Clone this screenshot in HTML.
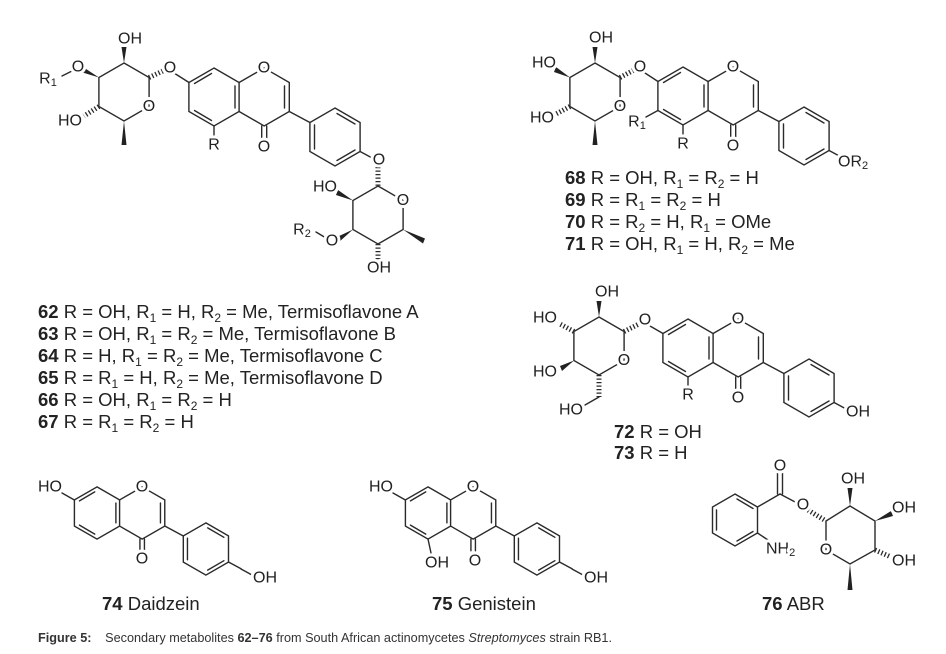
<!DOCTYPE html>
<html><head><meta charset="utf-8"><style>
html,body{margin:0;padding:0;background:#fff;}
svg{display:block;}
.b{stroke:#2a2a2a;stroke-width:1.4;fill:none;stroke-linecap:round;}
.w{fill:#222;stroke:none;}
.h{stroke:#2a2a2a;stroke-width:5;stroke-dasharray:1.3 2.2;fill:none;}
.a{font-family:"Liberation Sans",sans-serif;font-size:16px;fill:#222;text-anchor:middle;dominant-baseline:central;paint-order:stroke;stroke:#fff;stroke-width:6px;stroke-linejoin:round;}
.s{text-anchor:start;}
.t{font-family:"Liberation Sans",sans-serif;font-size:18.5px;fill:#222;}
.cap{font-family:"Liberation Sans Narrow","Liberation Sans",sans-serif;font-size:13px;fill:#333;}
</style></head><body>
<svg width="946" height="654" viewBox="0 0 946 654" xmlns="http://www.w3.org/2000/svg">
<defs>
<g id="core" class="b">
<polygon points="0,-29 25.1,-14.5 25.1,14.5 0,29 -25.1,14.5 -25.1,-14.5" vector-effect="non-scaling-stroke"/>
<line x1="21" y1="-11" x2="21" y2="11" vector-effect="non-scaling-stroke"/>
<line x1="-2.5" y1="23.5" x2="-19.5" y2="13.5" vector-effect="non-scaling-stroke"/>
<line x1="-19.5" y1="-13.5" x2="-2.5" y2="-23.5" vector-effect="non-scaling-stroke"/>
<polyline points="25.1,-14.5 50.2,-29 75.3,-14.5 75.3,14.5 50.2,29 25.1,14.5" vector-effect="non-scaling-stroke"/>
<line x1="70.5" y1="-11" x2="70.5" y2="11" vector-effect="non-scaling-stroke"/>
<line x1="47.7" y1="29" x2="47.7" y2="42" vector-effect="non-scaling-stroke"/>
<line x1="52.7" y1="29" x2="52.7" y2="42" vector-effect="non-scaling-stroke"/>
<line x1="75.3" y1="14.5" x2="95.9" y2="25.5" vector-effect="non-scaling-stroke"/>
<polygon points="121,11 146.1,25.5 146.1,54.5 121,69 95.9,54.5 95.9,25.5" vector-effect="non-scaling-stroke"/>
<line x1="100.5" y1="28" x2="100.5" y2="52" vector-effect="non-scaling-stroke"/>
<line x1="123" y1="16.5" x2="141" y2="27" vector-effect="non-scaling-stroke"/>
<line x1="141" y1="53" x2="123" y2="63.5" vector-effect="non-scaling-stroke"/>
<line x1="146.1" y1="54.5" x2="160" y2="62" vector-effect="non-scaling-stroke"/>
</g>
</defs>

<!-- ===== 62-67 ===== -->
<use href="#core" transform="translate(214,97)"/>
<line class="b" x1="214" y1="126" x2="214" y2="135"/>
<line class="b" x1="189" y1="82.5" x2="174" y2="73"/>
<polygon class="b" points="124,63 149.1,77.5 149.1,106.5 124,121 98.9,106.5 98.9,77.5"/>
<line class="h" x1="149" y1="77.5" x2="165" y2="70"/>
<polygon class="w" points="124,63 121.5,47 126.5,47"/>
<polygon class="w" points="99,77.5 83,67 81,72"/>
<line class="b" x1="74" y1="70" x2="62" y2="76"/>
<line class="h" x1="99" y1="106.5" x2="84" y2="116"/>
<polygon class="w" points="124,121 121.5,145 126.5,145"/>
<text class="a" x="264" y="68">O</text>
<text class="a" x="264" y="147">O</text>
<text class="a" x="214" y="145">R</text>
<text class="a" x="170" y="68">O</text>
<text class="a" x="149" y="106.5">O</text>
<text class="a" x="130" y="39">OH</text>
<text class="a" x="78" y="67">O</text>
<text class="a" x="48" y="79">R<tspan font-size="11" dy="4">1</tspan></text>
<text class="a" x="70" y="121">HO</text>

<line class="h" x1="378" y1="167" x2="378" y2="186"/>
<polygon class="b" points="378,186 403.1,200.5 403.1,229.5 378,244 352.9,229.5 352.9,200.5"/>
<polygon class="w" points="353,200.5 338,190 336,195"/>
<polygon class="w" points="353,229.5 337,237 339,242"/>
<line class="b" x1="326" y1="238" x2="316" y2="232"/>
<line class="h" x1="378" y1="244" x2="378" y2="260"/>
<polygon class="w" points="403,229.5 425,238.5 423,243.5"/>
<text class="a" x="379" y="160">O</text>
<text class="a" x="403" y="200.5">O</text>
<text class="a" x="325" y="187">HO</text>
<text class="a" x="332" y="241">O</text>
<text class="a" x="302" y="230">R<tspan font-size="11" dy="4">2</tspan></text>
<text class="a" x="379" y="268">OH</text>

<g class="t">
<text x="38" y="318"><tspan font-weight="bold">62</tspan> R = OH, R<tspan font-size="12" dy="4">1</tspan><tspan dy="-4"> = H, R</tspan><tspan font-size="12" dy="4">2</tspan><tspan dy="-4"> = Me, Termisoflavone A</tspan></text>
<text x="38" y="340"><tspan font-weight="bold">63</tspan> R = OH, R<tspan font-size="12" dy="4">1</tspan><tspan dy="-4"> = R</tspan><tspan font-size="12" dy="4">2</tspan><tspan dy="-4"> = Me, Termisoflavone B</tspan></text>
<text x="38" y="362"><tspan font-weight="bold">64</tspan> R = H, R<tspan font-size="12" dy="4">1</tspan><tspan dy="-4"> = R</tspan><tspan font-size="12" dy="4">2</tspan><tspan dy="-4"> = Me, Termisoflavone C</tspan></text>
<text x="38" y="384"><tspan font-weight="bold">65</tspan> R = R<tspan font-size="12" dy="4">1</tspan><tspan dy="-4"> = H, R</tspan><tspan font-size="12" dy="4">2</tspan><tspan dy="-4"> = Me, Termisoflavone D</tspan></text>
<text x="38" y="406"><tspan font-weight="bold">66</tspan> R = OH, R<tspan font-size="12" dy="4">1</tspan><tspan dy="-4"> = R</tspan><tspan font-size="12" dy="4">2</tspan><tspan dy="-4"> = H</tspan></text>
<text x="38" y="428"><tspan font-weight="bold">67</tspan> R = R<tspan font-size="12" dy="4">1</tspan><tspan dy="-4"> = R</tspan><tspan font-size="12" dy="4">2</tspan><tspan dy="-4"> = H</tspan></text>
</g>

<!-- ===== 68-71 ===== -->
<use href="#core" transform="translate(683,96)"/>
<line class="b" x1="683" y1="125" x2="683" y2="134"/>
<line class="b" x1="657.9" y1="110.5" x2="646" y2="117"/>
<line class="b" x1="658" y1="81.5" x2="645" y2="73"/>
<polygon class="b" points="595,63 620.1,77.5 620.1,106.5 595,121 569.9,106.5 569.9,77.5"/>
<line class="h" x1="620" y1="77.5" x2="634" y2="70"/>
<polygon class="w" points="595,63 592.5,47 597.5,47"/>
<polygon class="w" points="570,77.5 556,67 554,72"/>
<line class="h" x1="570" y1="106.5" x2="556" y2="114"/>
<polygon class="w" points="595,121 592.5,145 597.5,145"/>
<text class="a" x="733" y="67">O</text>
<text class="a" x="733" y="146">O</text>
<text class="a" x="683" y="144">R</text>
<text class="a" x="637" y="122">R<tspan font-size="11" dy="4">1</tspan></text>
<text class="a" x="640" y="67">O</text>
<text class="a" x="620" y="106.5">O</text>
<text class="a" x="601" y="38">OH</text>
<text class="a" x="544" y="63">HO</text>
<text class="a" x="542" y="118">HO</text>
<text class="a s" x="838" y="162">OR<tspan font-size="11" dy="4">2</tspan></text>
<g class="t">
<text x="565" y="184"><tspan font-weight="bold">68</tspan> R = OH, R<tspan font-size="12" dy="4">1</tspan><tspan dy="-4"> = R</tspan><tspan font-size="12" dy="4">2</tspan><tspan dy="-4"> = H</tspan></text>
<text x="565" y="206"><tspan font-weight="bold">69</tspan> R = R<tspan font-size="12" dy="4">1</tspan><tspan dy="-4"> = R</tspan><tspan font-size="12" dy="4">2</tspan><tspan dy="-4"> = H</tspan></text>
<text x="565" y="228"><tspan font-weight="bold">70</tspan> R = R<tspan font-size="12" dy="4">2</tspan><tspan dy="-4"> = H, R</tspan><tspan font-size="12" dy="4">1</tspan><tspan dy="-4"> = OMe</tspan></text>
<text x="565" y="250"><tspan font-weight="bold">71</tspan> R = OH, R<tspan font-size="12" dy="4">1</tspan><tspan dy="-4"> = H, R</tspan><tspan font-size="12" dy="4">2</tspan><tspan dy="-4"> = Me</tspan></text>
</g>

<!-- ===== 72-73 ===== -->
<use href="#core" transform="translate(688,348)"/>
<line class="b" x1="688" y1="377" x2="688" y2="386"/>
<line class="b" x1="663" y1="333.5" x2="650" y2="326"/>
<polygon class="b" points="599,317 624.1,331.5 624.1,360.5 599,375 573.9,360.5 573.9,331.5"/>
<line class="h" x1="624" y1="331.5" x2="639" y2="324"/>
<polygon class="w" points="599,317 596.5,301 601.5,301"/>
<line class="h" x1="574" y1="331.5" x2="560" y2="324"/>
<polygon class="w" points="574,360.5 560,366 562,371"/>
<line class="h" x1="599" y1="375" x2="599" y2="397"/>
<line class="b" x1="599" y1="397" x2="585" y2="405"/>
<text class="a" x="738" y="319">O</text>
<text class="a" x="738" y="398">O</text>
<text class="a" x="688" y="395">R</text>
<text class="a" x="645" y="320">O</text>
<text class="a" x="624" y="360.5">O</text>
<text class="a" x="607" y="292">OH</text>
<text class="a" x="545" y="318">HO</text>
<text class="a" x="545" y="372">HO</text>
<text class="a" x="571" y="410">HO</text>
<text class="a s" x="846" y="412">OH</text>
<g class="t">
<text x="614" y="438"><tspan font-weight="bold">72</tspan> R = OH</text>
<text x="614" y="459"><tspan font-weight="bold">73</tspan> R = H</text>
</g>

<!-- ===== 74 ===== -->
<use href="#core" transform="translate(97,513) scale(0.9)"/>
<line class="b" x1="74.4" y1="500" x2="62" y2="493"/>
<line class="b" x1="241" y1="569" x2="252" y2="575"/>
<text class="a" x="142" y="487">O</text>
<text class="a" x="142" y="559">O</text>
<text class="a" x="50" y="487">HO</text>
<text class="a s" x="253" y="578">OH</text>
<text class="t" x="102" y="610"><tspan font-weight="bold">74</tspan> Daidzein</text>

<!-- ===== 75 ===== -->
<use href="#core" transform="translate(428,513) scale(0.9)"/>
<line class="b" x1="405.4" y1="500" x2="393" y2="493"/>
<line class="b" x1="428" y1="539" x2="431" y2="553"/>
<line class="b" x1="572" y1="569" x2="583" y2="575"/>
<text class="a" x="473" y="487">O</text>
<text class="a" x="475" y="561">O</text>
<text class="a" x="381" y="487">HO</text>
<text class="a" x="437" y="563">OH</text>
<text class="a s" x="584" y="578">OH</text>
<text class="t" x="432" y="610"><tspan font-weight="bold">75</tspan> Genistein</text>

<!-- ===== 76 ===== -->
<polygon class="b" points="735,494 757.5,507 757.5,533 735,546 712.5,533 712.5,507"/>
<line class="b" x1="716.5" y1="510" x2="716.5" y2="530"/>
<line class="b" x1="737" y1="499" x2="753" y2="508.5"/>
<line class="b" x1="753" y1="531.5" x2="737" y2="541"/>
<line class="b" x1="757.5" y1="507" x2="780" y2="494"/>
<line class="b" x1="777.5" y1="494" x2="777.5" y2="472"/>
<line class="b" x1="782.5" y1="494" x2="782.5" y2="472"/>
<line class="b" x1="780" y1="494" x2="797" y2="503"/>
<line class="b" x1="757.5" y1="533" x2="768" y2="540"/>
<line class="h" x1="808" y1="510" x2="826" y2="521"/>
<polygon class="b" points="850,506 875,521 875,550 850,564 826,550 826,521"/>
<polygon class="w" points="850,506 847.5,488 852.5,488"/>
<polygon class="w" points="875,521 891,511 893,516"/>
<line class="h" x1="875" y1="550" x2="891" y2="557"/>
<polygon class="w" points="850,564 847.5,590 852.5,590"/>
<text class="a" x="780" y="466">O</text>
<text class="a" x="803" y="505">O</text>
<text class="a" x="826" y="550">O</text>
<text class="a" x="853" y="479">OH</text>
<text class="a s" x="892" y="508">OH</text>
<text class="a s" x="892" y="561">OH</text>
<text class="a s" x="766" y="549">NH<tspan font-size="11" dy="4">2</tspan></text>
<text class="t" x="762" y="610"><tspan font-weight="bold">76</tspan> ABR</text>

<!-- caption -->
<text class="cap" x="38" y="642" textLength="574" lengthAdjust="spacingAndGlyphs"><tspan font-weight="bold">Figure 5:</tspan><tspan dx="14">Secondary metabolites </tspan><tspan font-weight="bold">62–76</tspan> from South African actinomycetes <tspan font-style="italic">Streptomyces</tspan> strain RB1.</text>
</svg>
</body></html>
